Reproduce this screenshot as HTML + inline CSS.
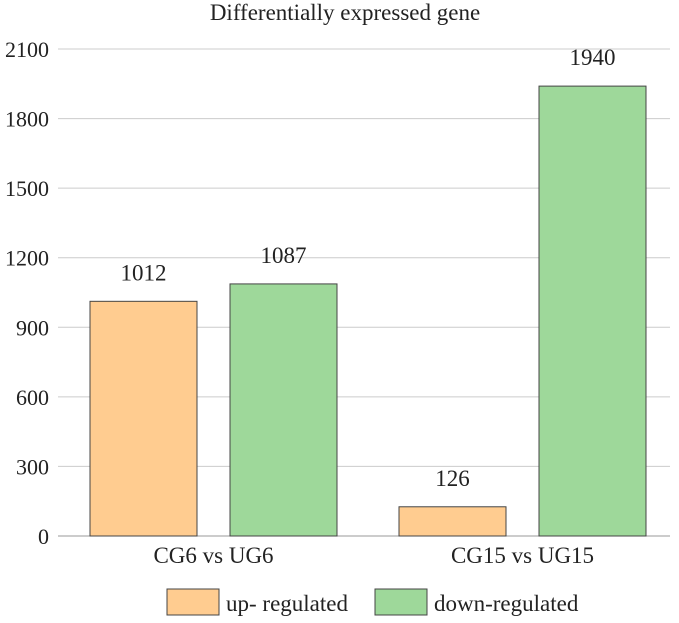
<!DOCTYPE html>
<html><head><meta charset="utf-8"><style>
body{margin:0;background:#fff;}
svg text{font-family:"Liberation Serif",serif;fill:#222;}
</style></head><body>
<svg width="679" height="618">
<text x="345" y="20" font-size="23" text-anchor="middle">Differentially expressed gene</text>
<g id="grid"></g><g id="bars"></g>
<g>
<rect x="167" y="589" width="52" height="26" fill="#FFCC90" stroke="#444"/>
<text x="226" y="611" font-size="23">up- regulated</text>
<rect x="375" y="589" width="52" height="26" fill="#9ED89A" stroke="#444"/>
<text x="434" y="611" font-size="23">down-regulated</text>
</g>
</svg>
<script>
const categories=["CG6 vs UG6","CG15 vs UG15"];
const upValues=[1012,126];
const downValues=[1087,1940];
const yTicks=[0,300,600,900,1200,1500,1800,2100];
const ns="http://www.w3.org/2000/svg";
const y0=536,yTop=49,yMax=2100,xL=58,xR=670;
const y=v=>y0-(v/yMax)*(y0-yTop);
const grid=document.getElementById('grid'),bars=document.getElementById('bars');
function mk(tag,attrs,parent){const e=document.createElementNS(ns,tag);for(const k in attrs)e.setAttribute(k,attrs[k]);parent.appendChild(e);return e;}
yTicks.forEach(t=>{
 const l=mk('line',{x1:xL,x2:xR,y1:y(t),y2:y(t),stroke:t===0?'#999':'#ccc','stroke-width':1},grid);
 
 
 const tx=mk('text',{x:49,y:y(t)+8,'font-size':22,'text-anchor':'end'},grid);
 tx.textContent=t;
 
 
});
const bw=107,gap=33,firstCenter=213.5,groupStep=309;
categories.forEach((c,i)=>{
 const cx=firstCenter+groupStep*i;
 [[upValues[i],'#FFCC90','up'],[downValues[i],'#9ED89A','down']].forEach((s,j)=>{
  const x=j===0?cx-gap/2-bw:cx+gap/2;
  const r=mk('rect',{x:x,y:y(s[0]),width:bw,height:y0-y(s[0]),fill:s[1],stroke:'#444','stroke-width':1},bars);
  
  
  const t=mk('text',{x:x+bw/2,y:y(s[0])-21,'font-size':23,'text-anchor':'middle'},bars);
  t.textContent=s[0];
  
  
 });
 const lab=mk('text',{x:cx,y:563,'font-size':23,'text-anchor':'middle'},bars);
 lab.textContent=c;
 
 
});
</script>
</body></html>
